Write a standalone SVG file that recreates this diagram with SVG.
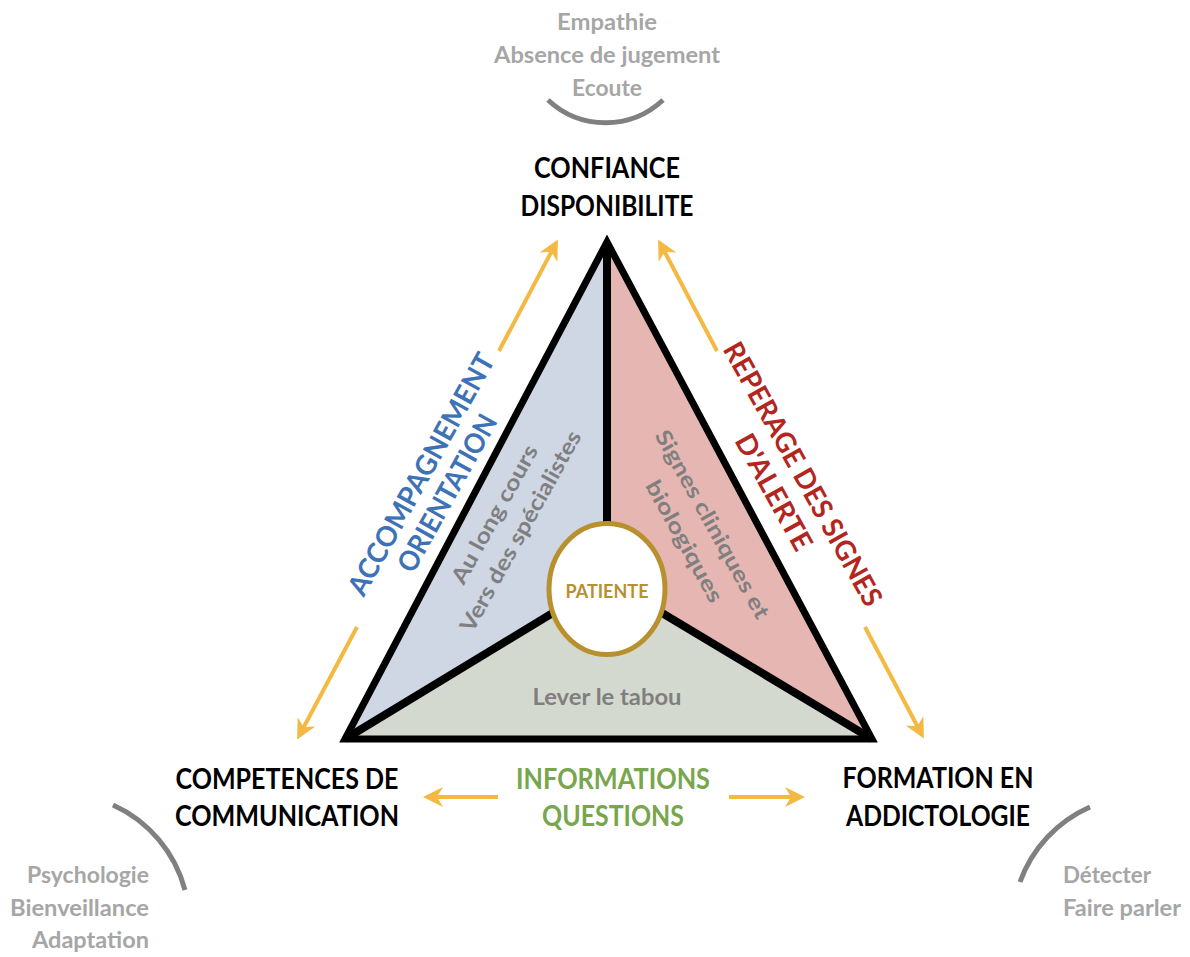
<svg xmlns="http://www.w3.org/2000/svg" width="1190" height="957" viewBox="0 0 1190 957">
<defs>
<style>
text{font-family:Lato,"Noto Sans","Liberation Sans",sans-serif;font-weight:700;text-anchor:middle}
.h{font-size:28px;fill:#000}
.g{font-size:22px;fill:#A6A6A6}
.i{font-size:22px;fill:#7F7F7F}
.blue{font-size:28px;fill:#3E72B6}
.red{font-size:28px;fill:#B3261E}
.green{font-size:28px;fill:#77A64C}
.arr{stroke:#F4B942;stroke-width:4;fill:none;marker-end:url(#ah)}
.arc{stroke:#808080;stroke-width:5;fill:none}
.edge{stroke:#000;stroke-width:8;fill:none;stroke-linejoin:miter}
</style>
<marker id="ah" viewBox="0 0 10 10" refX="8" refY="5" markerWidth="5" markerHeight="5" orient="auto" markerUnits="strokeWidth">
<path d="M0,0 L10,5 L0,10 L3,5 Z" fill="#F4B942"/>
</marker>
</defs>

<g id="triangle">
<polygon points="607,242 607,580 345,739" fill="#CFD6E4"/>
<polygon points="607,242 872,739 607,580" fill="#E6B6B2"/>
<polygon points="345,739 607,580 872,739" fill="#D4D9CF"/>
<path class="edge" d="M607,242 L607,580 M345,739 L607,580 L872,739"/>
<polygon points="607,242 872,739 345,739" fill="none" stroke="#000" stroke-width="7" stroke-linejoin="miter" stroke-miterlimit="10"/>
</g>

<g id="patiente">
<ellipse cx="607" cy="589" rx="58" ry="65.5" fill="#FFFFFF" stroke="#B8902E" stroke-width="5"/>
<text x="607" y="598" style="font-size:18px;fill:#B8902E" textLength="83" lengthAdjust="spacingAndGlyphs">PATIENTE</text>
</g>

<g id="sector-left">
<text class="i" transform="translate(496,515) rotate(-61)" x="0" y="6" textLength="155" lengthAdjust="spacingAndGlyphs">Au long cours</text>
<text class="i" transform="translate(522,532) rotate(-61)" x="0" y="6" textLength="226" lengthAdjust="spacingAndGlyphs">Vers des spécialistes</text>
</g>
<g id="sector-right">
<text class="i" transform="translate(711,525) rotate(61)" x="0" y="6" textLength="212" lengthAdjust="spacingAndGlyphs">Signes cliniques et</text>
<text class="i" transform="translate(683,542) rotate(61)" x="0" y="6" textLength="136" lengthAdjust="spacingAndGlyphs">biologiques</text>
</g>
<g id="sector-bottom">
<text class="i" x="607" y="705" textLength="149" lengthAdjust="spacingAndGlyphs">Lever le tabou</text>
</g>

<g id="top">
<text class="g" x="607" y="30" textLength="100" lengthAdjust="spacingAndGlyphs">Empathie</text>
<text class="g" x="607" y="63" textLength="226" lengthAdjust="spacingAndGlyphs">Absence de jugement</text>
<text class="g" x="607" y="96" textLength="70" lengthAdjust="spacingAndGlyphs">Ecoute</text>
<path class="arc" d="M548,100 A84,84 0 0 0 663,100"/>
<text class="h" x="607" y="178" textLength="146" lengthAdjust="spacingAndGlyphs">CONFIANCE</text>
<text class="h" x="607" y="216" textLength="173" lengthAdjust="spacingAndGlyphs">DISPONIBILITE</text>
</g>

<g id="bottom-left">
<text class="h" x="287" y="789" textLength="223" lengthAdjust="spacingAndGlyphs">COMPETENCES DE</text>
<text class="h" x="287" y="826" textLength="224" lengthAdjust="spacingAndGlyphs">COMMUNICATION</text>
<path class="arc" d="M113,805 A130,130 0 0 1 185,890"/>
<text class="g" x="149" y="883" style="text-anchor:end" textLength="122" lengthAdjust="spacingAndGlyphs">Psychologie</text>
<text class="g" x="149" y="916" style="text-anchor:end" textLength="139" lengthAdjust="spacingAndGlyphs">Bienveillance</text>
<text class="g" x="149" y="948" style="text-anchor:end" textLength="117" lengthAdjust="spacingAndGlyphs">Adaptation</text>
</g>

<g id="bottom-right">
<text class="h" x="938" y="788" textLength="191" lengthAdjust="spacingAndGlyphs">FORMATION EN</text>
<text class="h" x="938" y="826" textLength="184" lengthAdjust="spacingAndGlyphs">ADDICTOLOGIE</text>
<path class="arc" d="M1090,807 A130,130 0 0 0 1020,882"/>
<text class="g" x="1063" y="883" style="text-anchor:start" textLength="88" lengthAdjust="spacingAndGlyphs">Détecter</text>
<text class="g" x="1063" y="916" style="text-anchor:start" textLength="118" lengthAdjust="spacingAndGlyphs">Faire parler</text>
</g>

<g id="side-left">
<text class="blue" transform="translate(421,474) rotate(-61)" x="0" y="10" textLength="272" lengthAdjust="spacingAndGlyphs">ACCOMPAGNEMENT</text>
<text class="blue" transform="translate(447,493) rotate(-61)" x="0" y="10" textLength="175" lengthAdjust="spacingAndGlyphs">ORIENTATION</text>
</g>
<g id="side-right">
<text class="red" transform="translate(803,474) rotate(61)" x="0" y="10" textLength="297" lengthAdjust="spacingAndGlyphs">REPERAGE DES SIGNES</text>
<text class="red" transform="translate(774,492) rotate(61)" x="0" y="10" textLength="129" lengthAdjust="spacingAndGlyphs">D'ALERTE</text>
</g>
<g id="side-bottom">
<text class="green" x="613" y="789" textLength="194" lengthAdjust="spacingAndGlyphs">INFORMATIONS</text>
<text class="green" x="613" y="826" textLength="142" lengthAdjust="spacingAndGlyphs">QUESTIONS</text>
</g>

<g id="connectors">
<path class="arr" d="M499,351 L556,243"/>
<path class="arr" d="M357,627 L299,736"/>
<path class="arr" d="M717,351 L660,243"/>
<path class="arr" d="M865,627 L922,735"/>
<path class="arr" d="M498,797 L427,797"/>
<path class="arr" d="M729,797 L801,797"/>
</g>
</svg>
